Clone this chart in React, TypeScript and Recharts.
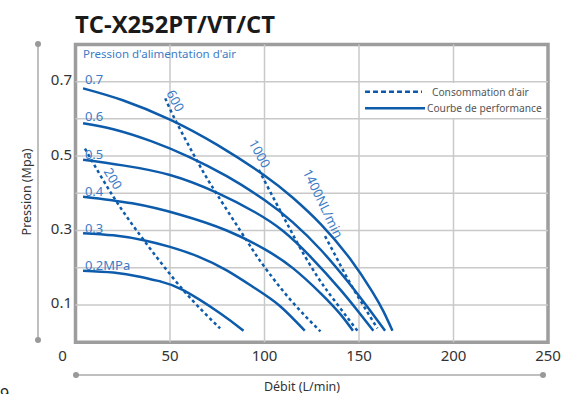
import React from 'react';
import {
  ComposedChart,
  Line,
  Scatter,
  XAxis,
  YAxis,
  ReferenceLine,
  ReferenceArea,
  Legend,
} from 'recharts';

// ---------- data ----------
const xTicks = [0, 50, 100, 150, 200, 250];
const yTicks = [0.1, 0.3, 0.5, 0.7];
const xGrid = [50, 100, 150, 200];
const yGrid = [0.1, 0.2, 0.3, 0.4, 0.5, 0.6, 0.7];

// performance curves (flow L/min, pressure MPa)
const perf07 = [[4, 0.682], [25, 0.65], [50, 0.598], [75, 0.53], [100, 0.448], [115, 0.388], [130, 0.316], [145, 0.226], [157, 0.136], [163, 0.082], [167.7, 0.031]];
const perf06 = [[4, 0.588], [20, 0.572], [40, 0.54], [60, 0.498], [80, 0.446], [100, 0.382], [115, 0.322], [130, 0.247], [145, 0.157], [155, 0.091], [163.8, 0.031]];
const perf05 = [[4, 0.49], [25, 0.475], [50, 0.449], [75, 0.401], [95, 0.349], [110, 0.298], [125, 0.226], [140, 0.142], [150, 0.08], [157.6, 0.031]];
const perf04 = [[4, 0.391], [30, 0.373], [55, 0.343], [80, 0.3], [100, 0.25], [115, 0.199], [130, 0.13], [140, 0.076], [146.8, 0.031]];
const perf03 = [[4, 0.293], [20, 0.287], [36, 0.274], [50, 0.256], [65, 0.23], [80, 0.193], [95, 0.145], [108, 0.098], [121.3, 0.031]];
const perf02 = [[4, 0.192], [20, 0.187], [34, 0.176], [45, 0.163], [57, 0.14], [76.5, 0.078], [88.9, 0.031]];

// air consumption curves
const air200 = [[5, 0.52], [20, 0.391], [36, 0.275], [57, 0.14], [76.5, 0.037]];
const air600 = [[47.5, 0.655], [53.5, 0.59], [65, 0.481], [75, 0.396], [90.7, 0.272], [99.6, 0.205], [113.7, 0.114], [129.6, 0.029]];
const air1000 = [[97, 0.463], [105, 0.385], [112, 0.318], [119, 0.252], [128, 0.176], [136.7, 0.114], [149.1, 0.031]];
const air1400 = [[132, 0.285], [138, 0.228], [143.8, 0.172], [150, 0.118], [155, 0.076], [159.7, 0.037]];

const pressureNames = ['0.7', '0.6', '0.5', '0.4', '0.3', '0.2MPa'];
const pressureValues = [0.7, 0.6, 0.5, 0.4, 0.3, 0.2];
const pressureLabelFlow = 5;

const airNames = ['200', '600', '1000', '1400NL/min'];
const airLabelFlow = [20, 53, 97.6, 131.1];
const airLabelPressure = [0.44, 0.649, 0.507, 0.373];

const legendNames = ["Consommation d'air", 'Courbe de performance'];

const title = 'TC-X252PT/VT/CT';
const subTitle = "Pression d'alimentation d'air";
const xLabel = 'Débit (L/min)';
const yLabel = 'Pression (Mpa)';

// ---------- styles ----------
const FONT = "'Noto Sans', 'Open Sans', sans-serif";
const CURVE = '#0d5bab';
const LABEL_BLUE = '#3b7cc6';
const GRID = '#c9c9c9';
const FRAME = '#9d9d9d';
const airAngles = [58, 62, 61, 64];

const toPts = (arr: number[][]) => arr.map(([x, y]) => ({ x, y }));

const perfSeries = [perf07, perf06, perf05, perf04, perf03, perf02].map(toPts);
const airSeries = [air200, air600, air1000, air1400].map(toPts);

const pressureLabelData = pressureNames.map((t, i) => ({ x: pressureLabelFlow, y: pressureValues[i], t }));
const airLabelData = airNames.map((t, i) => ({ x: airLabelFlow[i], y: airLabelPressure[i], t, a: airAngles[i] }));

const XTick = (props: any) => {
  const { x, y, payload } = props;
  const dx = payload.value === 0 ? -13 : 0;
  return (
    <text x={x + dx} y={y + 19} textAnchor="middle" fontSize={15} fontFamily={FONT} fill="#333">
      {payload.value}
    </text>
  );
};

const YTick = (props: any) => {
  const { x, y, payload } = props;
  return (
    <text x={x - 3.5} y={y + 3.5} textAnchor="end" fontSize={15} fontFamily={FONT} fill="#333">
      {payload.value}
    </text>
  );
};

const PressureLabel = (props: any) => {
  const { cx, cy, payload } = props;
  return (
    <text x={cx} y={cy + 2.5} fontSize={13} fontFamily={FONT} fill={LABEL_BLUE}>
      {payload.t}
    </text>
  );
};

const AirLabel = (props: any) => {
  const { cx, cy, payload } = props;
  return (
    <text
      x={cx}
      y={cy}
      fontSize={13}
      fontFamily={FONT}
      fill={LABEL_BLUE}
      textAnchor="middle"
      dominantBaseline="central"
      transform={`rotate(${payload.a} ${cx} ${cy})`}
    >
      {payload.t}
    </text>
  );
};

const LegendBox = () => (
  <svg width={184} height={35} style={{ display: 'block', overflow: 'visible' }}>
    <rect x={0} y={0} width={184} height={35} fill="#fff" />
    <line x1={3} y1={8.7} x2={60} y2={8.7} stroke={CURVE} strokeWidth={2.5} strokeDasharray="5 3" />
    <text x={70} y={12.5} fontSize={10.2} fontFamily={FONT} fill="#555">
      {legendNames[0]}
    </text>
    <line x1={3} y1={25.3} x2={63} y2={25.3} stroke={CURVE} strokeWidth={2.5} />
    <text x={65} y={29} fontSize={10.2} fontFamily={FONT} fill="#555">
      {legendNames[1]}
    </text>
  </svg>
);

export default function App() {
  return (
    <div style={{ position: 'absolute', left: 0, top: 0, width: 567, height: 394, background: '#fff' }}>
      <ComposedChart
        width={567}
        height={394}
        margin={{ top: 44.4, right: 19, bottom: 21.8, left: 15.5 }}
      >
        <XAxis
          type="number"
          dataKey="x"
          domain={[0, 250]}
          ticks={xTicks}
          allowDataOverflow
          axisLine={false}
          tickLine={false}
          tickSize={0}
          tickMargin={0}
          height={30}
          tick={<XTick />}
          interval={0}
        />
        <YAxis
          type="number"
          dataKey="y"
          domain={[0, 0.8]}
          ticks={yTicks}
          allowDataOverflow
          axisLine={false}
          tickLine={false}
          tickSize={0}
          tickMargin={0}
          width={60}
          tick={<YTick />}
          interval={0}
        />
        {yGrid.map((v) => (
          <ReferenceLine key={'h' + v} y={v} stroke={GRID} strokeWidth={1.5} />
        ))}
        {xGrid.map((v) => (
          <ReferenceLine key={'v' + v} x={v} stroke={GRID} strokeWidth={1.5} />
        ))}
        <ReferenceArea x1={0} x2={250} y1={0} y2={0.8} fill="none" stroke={FRAME} strokeWidth={3.5} ifOverflow="visible" />
        <Legend
          layout="vertical"
          align="center"
          verticalAlign="middle"
          wrapperStyle={{ left: 362, top: 83, width: 184, height: 35 }}
          content={() => <LegendBox />}
        />
        {airSeries.map((d, i) => (
          <Line
            key={'air' + i}
            data={d}
            dataKey="y"
            type="natural"
            stroke={CURVE}
            strokeWidth={2.5}
            strokeDasharray="3.2 3"
            dot={false}
            activeDot={false}
            isAnimationActive={false}
            legendType="none"
          />
        ))}
        {perfSeries.map((d, i) => (
          <Line
            key={'perf' + i}
            data={d}
            dataKey="y"
            type="natural"
            stroke={CURVE}
            strokeWidth={2.5}
            dot={false}
            activeDot={false}
            isAnimationActive={false}
            legendType="none"
          />
        ))}
        <Scatter data={pressureLabelData} dataKey="y" shape={<PressureLabel />} isAnimationActive={false} legendType="none" />
        <Scatter data={airLabelData} dataKey="y" shape={<AirLabel />} isAnimationActive={false} legendType="none" />
      </ComposedChart>
      <svg
        width={567}
        height={394}
        style={{ position: 'absolute', left: 0, top: 0, pointerEvents: 'none' }}
      >
        <text x={75} y={33} fontSize={24} fontWeight={700} fontFamily="'Open Sans', sans-serif" fill="#1a1a1a" textLength={200} lengthAdjust="spacingAndGlyphs">
          {title}
        </text>
        <text x={83} y={58} fontSize={11.5} fontFamily={FONT} fill={LABEL_BLUE}>
          {subTitle}
        </text>
        <text x={0} y={0} fontSize={12.5} fontFamily={FONT} fill="#333" textAnchor="middle" transform="translate(31 192) rotate(-90)">
          {yLabel}
        </text>
        <text x={302} y={391} fontSize={12.5} fontFamily={FONT} fill="#333" textAnchor="middle">
          {xLabel}
        </text>
        <line x1={38} y1={44} x2={38} y2={340} stroke="#aaa" strokeWidth={1.5} />
        <circle cx={38} cy={44} r={3} fill="#999" />
        <circle cx={38} cy={340} r={3} fill="#999" />
        <line x1={76} y1={375} x2={543} y2={375} stroke="#aaa" strokeWidth={1.5} />
        <circle cx={76} cy={375} r={3} fill="#999" />
        <circle cx={543} cy={375} r={3} fill="#999" />
        <text x={0} y={400} fontSize={16} fontFamily={FONT} fill="#222">9</text>
      </svg>
    </div>
  );
}
